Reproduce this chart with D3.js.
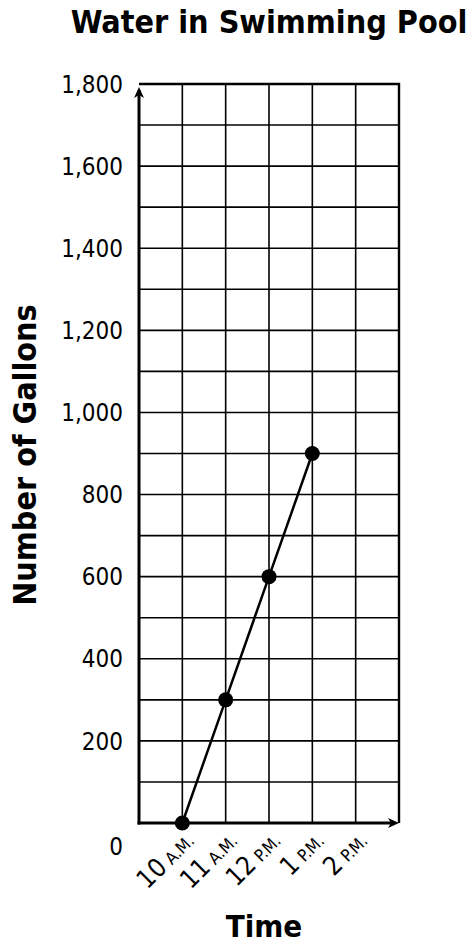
<!DOCTYPE html>
<html>
<head>
<meta charset="utf-8">
<script src="https://cdn.jsdelivr.net/npm/d3@7"></script>
<style>
  body { margin: 0; background: #fff; }
  svg { display: block; }
</style>
</head>
<body>
<div id="chart"></div>
<script>
const times = ['10', '11', '12', '1', '2'];
const periods = ['A.M.', 'A.M.', 'P.M.', 'P.M.', 'P.M.'];
const gallons = [0, 300, 600, 900];
const yLabels = [0, 200, 400, 600, 800, 1000, 1200, 1400, 1600, 1800];
const yGrid = [0, 100, 200, 300, 400, 500, 600, 700, 800, 900, 1000, 1100, 1200, 1300, 1400, 1500, 1600, 1700, 1800];

const width = 470, height = 943;
const plotLeft = 139, plotRight = 399, plotTop = 84, plotBottom = 823;
const font = '"DejaVu Sans Condensed", "DejaVu Sans", sans-serif';

const svg = d3.select('#chart').append('svg')
  .attr('width', width)
  .attr('height', height)
  .attr('font-family', font);

// x: column 0 is the y axis, times sit on lines 1..5, last column empty
const x = d3.scaleLinear().domain([0, times.length + 1]).range([plotLeft, plotRight]);
const y = d3.scaleLinear().domain([0, 1800]).range([plotBottom, plotTop]);

// grid
svg.append('g')
  .selectAll('line')
  .data(d3.range(1, times.length + 1))
  .join('line')
  .attr('x1', d => x(d)).attr('x2', d => x(d))
  .attr('y1', y(0)).attr('y2', y(1800))
  .attr('stroke', '#000').attr('stroke-width', 1.6);

svg.append('g')
  .selectAll('line')
  .data(yGrid.slice(1))
  .join('line')
  .attr('x1', x(0)).attr('x2', x(times.length + 1))
  .attr('y1', d => y(d)).attr('y2', d => y(d))
  .attr('stroke', '#000').attr('stroke-width', 1.6);

// top and right border
svg.append('path')
  .attr('d', `M${x(0)},${y(1800)}H${x(times.length + 1)}V${y(0)}`)
  .attr('fill', 'none').attr('stroke', '#000').attr('stroke-width', 2.4);

// axes with arrows
svg.append('line')
  .attr('x1', x(0)).attr('x2', x(0))
  .attr('y1', y(0) + 1.5).attr('y2', y(1800) + 6)
  .attr('stroke', '#000').attr('stroke-width', 3);
svg.append('line')
  .attr('x1', x(0) - 1.5).attr('x2', x(times.length + 1) - 6)
  .attr('y1', y(0)).attr('y2', y(0))
  .attr('stroke', '#000').attr('stroke-width', 3);

const ax = x(0), ay = y(1800) + 3;
svg.append('path')
  .attr('d', `M${ax},${ay}L${ax - 5},${ay + 11}L${ax},${ay + 8}L${ax + 5},${ay + 11}Z`)
  .attr('fill', '#000');
const bx = x(times.length + 1), by = y(0);
svg.append('path')
  .attr('d', `M${bx},${by}L${bx - 11},${by - 5}L${bx - 8},${by}L${bx - 11},${by + 5}Z`)
  .attr('fill', '#000');

// y labels
svg.append('g')
  .selectAll('text')
  .data(yLabels.filter(d => d > 0))
  .join('text')
  .attr('x', 123)
  .attr('y', d => y(d))
  .attr('dy', '0.36em')
  .attr('text-anchor', 'end')
  .attr('font-size', 24)
  .text(d => d3.format(',')(d));

svg.append('text')
  .attr('x', 123)
  .attr('y', y(0) + 23)
  .attr('dy', '0.36em')
  .attr('text-anchor', 'end')
  .attr('font-size', 24)
  .text(yLabels[0]);

// x labels, rotated
const xl = svg.append('g')
  .selectAll('text')
  .data(times)
  .join('text')
  .attr('text-anchor', 'end')
  .attr('transform', (d, i) => `translate(${x(i + 1) + 13},${y(0) + 19}) rotate(-45)`);
xl.append('tspan').attr('font-size', 26).text(d => d);
xl.append('tspan').attr('font-size', 17).attr('dx', 5).text((d, i) => periods[i]);

// line and points
const pts = gallons.map((g, i) => [x(i + 1), y(g)]);
svg.append('path')
  .datum(pts)
  .attr('d', d3.line())
  .attr('fill', 'none')
  .attr('stroke', '#000')
  .attr('stroke-width', 2.5);

svg.append('g')
  .selectAll('circle')
  .data(pts)
  .join('circle')
  .attr('cx', d => d[0])
  .attr('cy', d => d[1])
  .attr('r', 7.5)
  .attr('fill', '#000');

// titles
svg.append('text')
  .attr('x', 269)
  .attr('y', 33)
  .attr('text-anchor', 'middle')
  .attr('font-size', 32)
  .attr('font-weight', 'bold')
  .text('Water in Swimming Pool');

svg.append('text')
  .attr('x', 264)
  .attr('y', 937)
  .attr('text-anchor', 'middle')
  .attr('font-size', 31)
  .attr('font-weight', 'bold')
  .text('Time');

svg.append('text')
  .attr('transform', `translate(36,455) rotate(-90)`)
  .attr('text-anchor', 'middle')
  .attr('font-size', 32)
  .attr('font-weight', 'bold')
  .text('Number of Gallons');
</script>
</body>
</html>
